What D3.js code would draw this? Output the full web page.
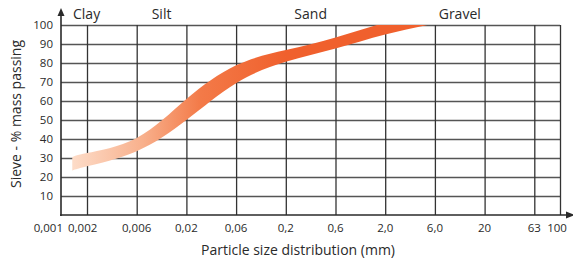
<!DOCTYPE html>
<html>
<head>
<meta charset="utf-8">
<script src="https://cdn.jsdelivr.net/npm/d3@7"></script>
<style>
    body { margin: 0; background: #fff; }
    svg { display: block; font-family: "Open Sans", "Noto Sans", sans-serif; }
</style>
</head>
<body>
<svg id="chart" width="573" height="260"></svg>
<script>
// Sieve sizes (mm) used as the x ticks, with their printed labels
const sieveSizes = [0.001, 0.002, 0.006, 0.02, 0.06, 0.2, 0.6, 2, 6, 20, 63, 100];
const sieveLabels = ['0,001', '0,002', '0,006', '0,02', '0,06', '0,2', '0,6', '2,0', '6,0', '20', '63', '100'];

// Soil classes and the size range they cover
const soilClasses = ['Clay', 'Silt', 'Sand', 'Gravel'];
const classFrom = [0.001, 0.002, 0.06, 2];
const classTo = [0.002, 0.06, 2, 63];

// % passing ticks
const passTicks = [10, 20, 30, 40, 50, 60, 70, 80, 90, 100];

// Grading band: size, upper and lower edge in % passing
const bandSize = [0.00135, 0.002, 0.006, 0.02, 0.06, 0.2, 0.6, 2, 6];
const bandUpper = [30.4, 32.6, 40.5, 61.0, 78.8, 86.8, 93.4, 101.2, 106.5];
const bandLower = [23.3, 25.6, 33.6, 50.0, 69.4, 80.6, 87.6, 95.0, 100.8];

const svg = d3.select('#chart');

const plotLeft = 61, plotRight = 560, plotTop = 25, plotBottom = 215;
const endStep = 26;     // first and last gap are narrower
const step = (534.3 - (plotLeft + endStep)) / 9;

// piecewise log scale so every sieve gets its own column
const xPositions = sieveSizes.map((d, i) => {
    if (i === 0) return plotLeft;
    if (i === sieveSizes.length - 1) return plotRight;
    return plotLeft + endStep + (i - 1) * step;
});
const x = d3.scaleLog().domain(sieveSizes).range(xPositions);
const y = d3.scaleLinear().domain([0, 100]).range([plotBottom, plotTop]);

const ink = '#2a2a2a';

// gradient for the band
const defs = svg.append('defs');
const grad = defs.append('linearGradient')
    .attr('id', 'bandGrad')
    .attr('gradientUnits', 'userSpaceOnUse')
    .attr('x1', x(0.00135)).attr('x2', x(0.2))
    .attr('y1', 0).attr('y2', 0);
grad.append('stop').attr('offset', 0).attr('stop-color', '#fddcc8');
grad.append('stop').attr('offset', 0.33).attr('stop-color', '#f8b08c');
grad.append('stop').attr('offset', 0.6).attr('stop-color', '#f37a48');
grad.append('stop').attr('offset', 1).attr('stop-color', '#f0602d');

defs.append('clipPath').attr('id', 'plotClip')
    .append('rect')
    .attr('x', plotLeft).attr('y', plotTop)
    .attr('width', plotRight - plotLeft).attr('height', plotBottom - plotTop);

// horizontal grid
svg.append('g')
    .attr('transform', `translate(${plotLeft},0)`)
    .call(d3.axisLeft(y).tickValues(passTicks).tickSize(-(plotRight - plotLeft)).tickFormat(''))
    .call(g => g.select('.domain').remove())
    .call(g => g.selectAll('line').attr('stroke', '#555').attr('stroke-width', 1.3));

// vertical grid
svg.append('g')
    .attr('transform', `translate(0,${plotBottom})`)
    .call(d3.axisBottom(x).tickValues(sieveSizes.slice(1)).tickSize(-(plotBottom - plotTop)).tickFormat(''))
    .call(g => g.select('.domain').remove())
    .call(g => g.selectAll('line').attr('stroke', '#333').attr('stroke-width', 1.3));

// grading band
const area = d3.area()
    .x((d, i) => x(bandSize[i]))
    .y0((d, i) => y(bandLower[i]))
    .y1((d, i) => y(bandUpper[i]))
    .curve(d3.curveNatural);

svg.append('path')
    .datum(bandSize)
    .attr('clip-path', 'url(#plotClip)')
    .attr('fill', 'url(#bandGrad)')
    .attr('d', area);

// y tick labels
svg.append('g')
    .attr('transform', `translate(${plotLeft},0)`)
    .call(d3.axisLeft(y).tickValues(passTicks).tickSize(0).tickPadding(8))
    .call(g => g.select('.domain').remove())
    .call(g => g.selectAll('text')
        .attr('fill', ink)
        .style('font-size', '11.5px')
        .style('font-family', '"Open Sans", sans-serif'));

// x tick labels
const xLabels = svg.append('g').attr('class', 'x-labels');
sieveLabels.forEach((label, i) => {
    let anchor = 'middle', dx = 0;
    if (i === 0) { anchor = 'end'; dx = 2; }
    if (i === 1) { anchor = 'start'; dx = -19; }
    if (i === sieveLabels.length - 1) { dx = -3; }
    xLabels.append('text')
        .attr('x', x(sieveSizes[i]) + dx)
        .attr('y', 232)
        .attr('text-anchor', anchor)
        .attr('fill', ink)
        .style('font-size', '11.5px')
        .text(label);
});

// axes with arrows
svg.append('line')
    .attr('x1', plotLeft).attr('x2', plotLeft)
    .attr('y1', plotBottom + 1).attr('y2', 14)
    .attr('stroke', ink).attr('stroke-width', 1.6);
svg.append('path')
    .attr('d', `M${plotLeft - 3.5},16 L${plotLeft},8 L${plotLeft + 3.5},16 Z`)
    .attr('fill', ink);

svg.append('line')
    .attr('x1', plotLeft - 1).attr('x2', 568)
    .attr('y1', plotBottom).attr('y2', plotBottom)
    .attr('stroke', ink).attr('stroke-width', 1.6);
svg.append('path')
    .attr('d', `M566,${plotBottom - 3.5} L575,${plotBottom} L566,${plotBottom + 3.5} Z`)
    .attr('fill', ink);

// soil class labels along the top
soilClasses.forEach((name, i) => {
    const cx = i === 0
        ? x(classFrom[i]) + 12
        : (x(classFrom[i]) + x(classTo[i])) / 2;
    svg.append('text')
        .attr('x', cx)
        .attr('y', 19)
        .attr('text-anchor', i === 0 ? 'start' : 'middle')
        .attr('fill', ink)
        .style('font-size', '14px')
        .text(name);
});

// axis titles
svg.append('text')
    .attr('x', 298)
    .attr('y', 255)
    .attr('text-anchor', 'middle')
    .attr('fill', ink)
    .style('font-size', '14px')
    .text('Particle size distribution (mm)');

svg.append('text')
    .attr('transform', 'translate(21,114) rotate(-90)')
    .attr('text-anchor', 'middle')
    .attr('fill', ink)
    .style('font-size', '14px')
    .text('Sieve - % mass passing');
</script>
</body>
</html>
